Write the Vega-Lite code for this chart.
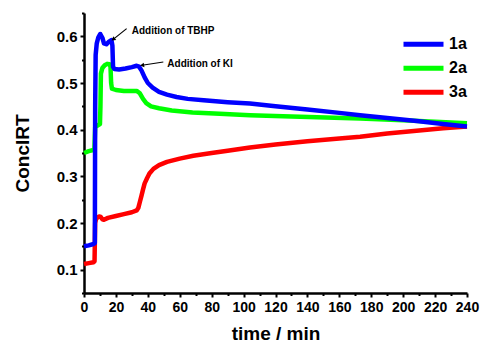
{
  "$schema": "https://vega.github.io/schema/vega-lite/v6.json",
  "width": 383,
  "height": 280,
  "autosize": {"type": "none"},
  "padding": {"left": 84, "top": 13, "right": 14, "bottom": 56},
  "background": "white",
  "config": {
    "view": {"stroke": null},
    "font": "Liberation Sans",
    "axis": {"grid": false, "domainColor": "black", "tickColor": "black", "labelColor": "black", "titleColor": "black", "labelFontWeight": "bold", "titleFontWeight": "bold", "domainWidth": 2.5, "tickWidth": 2}
  },
  "datasets": {
    "curves": [
      {"t": 0, "v": 0.112, "s": "3a"}, {"t": 3, "v": 0.114, "s": "3a"}, {"t": 6, "v": 0.116, "s": "3a"}, {"t": 6.6, "v": 0.118, "s": "3a"}, {"t": 7, "v": 0.2, "s": "3a"}, {"t": 7.5, "v": 0.208, "s": "3a"}, {"t": 8.5, "v": 0.212, "s": "3a"}, {"t": 9.5, "v": 0.214, "s": "3a"}, {"t": 10.5, "v": 0.213, "s": "3a"}, {"t": 11.5, "v": 0.208, "s": "3a"}, {"t": 12.5, "v": 0.207, "s": "3a"}, {"t": 15, "v": 0.211, "s": "3a"}, {"t": 20, "v": 0.215, "s": "3a"}, {"t": 25, "v": 0.219, "s": "3a"}, {"t": 30, "v": 0.223, "s": "3a"}, {"t": 33, "v": 0.227, "s": "3a"}, {"t": 34, "v": 0.232, "s": "3a"}, {"t": 35, "v": 0.245, "s": "3a"}, {"t": 36, "v": 0.258, "s": "3a"}, {"t": 37, "v": 0.272, "s": "3a"}, {"t": 38, "v": 0.285, "s": "3a"}, {"t": 39.5, "v": 0.296, "s": "3a"}, {"t": 41, "v": 0.306, "s": "3a"}, {"t": 43.5, "v": 0.316, "s": "3a"}, {"t": 47, "v": 0.324, "s": "3a"}, {"t": 52, "v": 0.331, "s": "3a"}, {"t": 60, "v": 0.338, "s": "3a"}, {"t": 68.5, "v": 0.344, "s": "3a"}, {"t": 80, "v": 0.35, "s": "3a"}, {"t": 90, "v": 0.355, "s": "3a"}, {"t": 104, "v": 0.362, "s": "3a"}, {"t": 120, "v": 0.368, "s": "3a"}, {"t": 140, "v": 0.375, "s": "3a"}, {"t": 160, "v": 0.381, "s": "3a"}, {"t": 173, "v": 0.385, "s": "3a"}, {"t": 190, "v": 0.392, "s": "3a"}, {"t": 210, "v": 0.398, "s": "3a"}, {"t": 225, "v": 0.403, "s": "3a"}, {"t": 240, "v": 0.407, "s": "3a"},
      {"t": 0, "v": 0.35, "s": "2a"}, {"t": 3, "v": 0.354, "s": "2a"}, {"t": 6.5, "v": 0.357, "s": "2a"}, {"t": 7, "v": 0.405, "s": "2a"}, {"t": 8, "v": 0.408, "s": "2a"}, {"t": 10, "v": 0.412, "s": "2a"}, {"t": 10.3, "v": 0.45, "s": "2a"}, {"t": 10.6, "v": 0.52, "s": "2a"}, {"t": 11.5, "v": 0.532, "s": "2a"}, {"t": 13, "v": 0.538, "s": "2a"}, {"t": 14.5, "v": 0.541, "s": "2a"}, {"t": 16, "v": 0.54, "s": "2a"}, {"t": 16.6, "v": 0.535, "s": "2a"}, {"t": 17, "v": 0.5, "s": "2a"}, {"t": 17.5, "v": 0.488, "s": "2a"}, {"t": 20, "v": 0.485, "s": "2a"}, {"t": 25, "v": 0.483, "s": "2a"}, {"t": 30, "v": 0.483, "s": "2a"}, {"t": 33, "v": 0.483, "s": "2a"}, {"t": 35, "v": 0.478, "s": "2a"}, {"t": 37, "v": 0.466, "s": "2a"}, {"t": 39, "v": 0.457, "s": "2a"}, {"t": 42, "v": 0.45, "s": "2a"}, {"t": 47, "v": 0.446, "s": "2a"}, {"t": 55, "v": 0.441, "s": "2a"}, {"t": 68, "v": 0.437, "s": "2a"}, {"t": 85, "v": 0.434, "s": "2a"}, {"t": 104, "v": 0.431, "s": "2a"}, {"t": 130, "v": 0.428, "s": "2a"}, {"t": 173, "v": 0.424, "s": "2a"}, {"t": 200, "v": 0.42, "s": "2a"}, {"t": 240, "v": 0.414, "s": "2a"},
      {"t": 0, "v": 0.15, "s": "1a"}, {"t": 3, "v": 0.152, "s": "1a"}, {"t": 6, "v": 0.155, "s": "1a"}, {"t": 6.8, "v": 0.157, "s": "1a"}, {"t": 7, "v": 0.45, "s": "1a"}, {"t": 7.3, "v": 0.56, "s": "1a"}, {"t": 8, "v": 0.585, "s": "1a"}, {"t": 9, "v": 0.598, "s": "1a"}, {"t": 10.2, "v": 0.605, "s": "1a"}, {"t": 11.5, "v": 0.597, "s": "1a"}, {"t": 12.5, "v": 0.585, "s": "1a"}, {"t": 14, "v": 0.583, "s": "1a"}, {"t": 15.5, "v": 0.588, "s": "1a"}, {"t": 17.2, "v": 0.592, "s": "1a"}, {"t": 17.8, "v": 0.58, "s": "1a"}, {"t": 18.2, "v": 0.535, "s": "1a"}, {"t": 19, "v": 0.53, "s": "1a"}, {"t": 22, "v": 0.529, "s": "1a"}, {"t": 26, "v": 0.531, "s": "1a"}, {"t": 30, "v": 0.534, "s": "1a"}, {"t": 33, "v": 0.537, "s": "1a"}, {"t": 34.5, "v": 0.535, "s": "1a"}, {"t": 36, "v": 0.527, "s": "1a"}, {"t": 38, "v": 0.512, "s": "1a"}, {"t": 40, "v": 0.5, "s": "1a"}, {"t": 43, "v": 0.49, "s": "1a"}, {"t": 47, "v": 0.481, "s": "1a"}, {"t": 52, "v": 0.475, "s": "1a"}, {"t": 58, "v": 0.47, "s": "1a"}, {"t": 65, "v": 0.466, "s": "1a"}, {"t": 75, "v": 0.463, "s": "1a"}, {"t": 90, "v": 0.459, "s": "1a"}, {"t": 104, "v": 0.456, "s": "1a"}, {"t": 120, "v": 0.45, "s": "1a"}, {"t": 140, "v": 0.443, "s": "1a"}, {"t": 160, "v": 0.436, "s": "1a"}, {"t": 173, "v": 0.431, "s": "1a"}, {"t": 190, "v": 0.425, "s": "1a"}, {"t": 210, "v": 0.418, "s": "1a"}, {"t": 225, "v": 0.412, "s": "1a"}, {"t": 240, "v": 0.407, "s": "1a"}
    ],
    "notes": [
      {"label": "Addition of TBHP", "tx": 29.9, "ty": 0.611, "x1": 26.7, "y1": 0.6165, "x2": 18.3, "y2": 0.5935, "ang": 232},
      {"label": "Addition of KI", "tx": 52.2, "ty": 0.54, "x1": 49.7, "y1": 0.545, "x2": 36.4, "y2": 0.538, "ang": 261}
    ]
  },
  "layer": [
    {
      "data": {"name": "curves"},
      "transform": [{"filter": "datum.s === '3a'"}],
      "mark": {"type": "line", "strokeWidth": 4.5, "strokeJoin": "round", "strokeCap": "butt"},
      "encoding": {
        "x": {"field": "t", "type": "quantitative", "scale": {"domain": [0, 240], "nice": false, "zero": false}, "axis": {"orient": "bottom", "title": "time / min", "values": [0, 20, 40, 60, 80, 100, 120, 140, 160, 180, 200, 220, 240], "labelFontSize": 14, "titleFontSize": 19, "tickSize": 4, "labelPadding": 3, "titlePadding": 10, "labelFlush": false, "labelOverlap": false}},
        "y": {"field": "v", "type": "quantitative", "scale": {"domain": [0.05, 0.65], "nice": false, "zero": false}, "axis": {"orient": "left", "title": "ConclRT", "values": [0.1, 0.2, 0.3, 0.4, 0.5, 0.6], "format": ".1f", "labelFontSize": 15, "titleFontSize": 19, "tickSize": 4, "labelPadding": 3, "titlePadding": 24}},
        "color": {"field": "s", "type": "nominal", "scale": {"domain": ["1a", "2a", "3a"], "range": ["#0000ff", "#00ff00", "#ff0000"]}, "legend": {"title": null, "orient": "none", "legendX": 327, "legendY": 18.7, "symbolType": "M-2,0H2", "symbolStrokeWidth": 5, "symbolSize": 400, "labelFontSize": 16, "labelFontWeight": "bold", "labelColor": "black", "rowPadding": 1, "labelOffset": 13, "padding": 0}}
      }
    },
    {
      "data": {"name": "curves"},
      "transform": [{"filter": "datum.s === '2a'"}],
      "mark": {"type": "line", "strokeWidth": 4.5, "strokeJoin": "round"},
      "encoding": {
        "x": {"field": "t", "type": "quantitative", "axis": null},
        "y": {"field": "v", "type": "quantitative", "axis": null},
        "color": {"field": "s", "type": "nominal"}
      }
    },
    {
      "data": {"name": "curves"},
      "transform": [{"filter": "datum.s === '1a'"}],
      "mark": {"type": "line", "strokeWidth": 4.5, "strokeJoin": "round"},
      "encoding": {
        "x": {"field": "t", "type": "quantitative", "axis": null},
        "y": {"field": "v", "type": "quantitative", "axis": null},
        "color": {"field": "s", "type": "nominal"}
      }
    },
    {
      "data": {"name": "notes"},
      "mark": {"type": "rule", "color": "black", "strokeWidth": 1.2},
      "encoding": {
        "x": {"field": "x1", "type": "quantitative", "axis": {"title": null, "orient": "bottom", "values": [10, 30, 50, 70, 90, 110, 130, 150, 170, 190, 210, 230], "labels": false, "domain": false, "tickSize": 2.5}},
        "y": {"field": "y1", "type": "quantitative", "axis": {"title": null, "orient": "left", "values": [0.05, 0.15, 0.25, 0.35, 0.45, 0.55, 0.65], "labels": false, "domain": false, "tickSize": 2.5}},
        "x2": {"field": "x2"},
        "y2": {"field": "y2"}
      }
    },
    {
      "data": {"name": "notes"},
      "mark": {"type": "point", "shape": "triangle-up", "filled": true, "color": "black", "size": 22, "opacity": 1},
      "encoding": {
        "x": {"field": "x2", "type": "quantitative", "axis": null},
        "y": {"field": "y2", "type": "quantitative", "axis": null},
        "angle": {"field": "ang", "type": "quantitative", "scale": null}
      }
    },
    {
      "data": {"name": "notes"},
      "mark": {"type": "text", "align": "left", "baseline": "middle", "fontSize": 10, "fontWeight": "bold", "color": "black"},
      "encoding": {
        "x": {"field": "tx", "type": "quantitative", "axis": null},
        "y": {"field": "ty", "type": "quantitative", "axis": null},
        "text": {"field": "label"}
      }
    }
  ],
  "resolve": {"axis": {"x": "independent", "y": "independent"}}
}
